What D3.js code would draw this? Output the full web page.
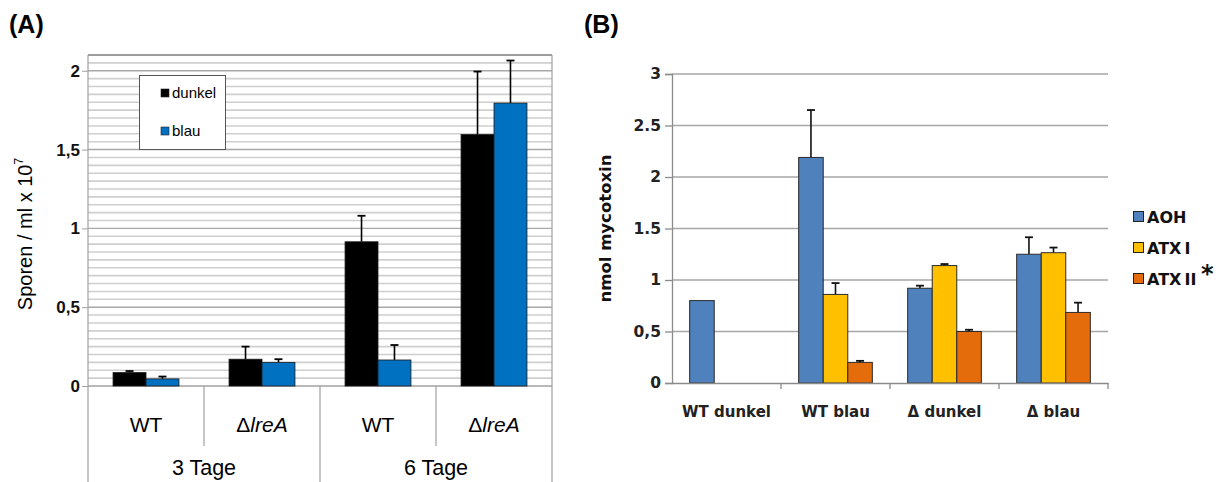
<!DOCTYPE html>
<html>
<head>
<meta charset="utf-8">
<script src="https://d3js.org/d3.v7.min.js"></script>
<style>
  html, body { margin: 0; padding: 0; background: #fff; }
  svg { display: block; font-family: "Liberation Sans", Arial, sans-serif; }
  .fb { font-family: "DejaVu Sans", Verdana, sans-serif; font-weight: bold; }
</style>
</head>
<body>
<svg id="chart" width="1223" height="482"></svg>
<script>
// ---- Panel A: spore counts ----
const daysA = ["3 Tage", "6 Tage"];
const strainsA = ["WT", "ΔlreA", "WT", "ΔlreA"];
const seriesA = ["dunkel", "blau"];
const dunkelMean = [0.085, 0.17, 0.915, 1.595];
const dunkelSD   = [0.01, 0.08, 0.165, 0.40];
const blauMean   = [0.045, 0.15, 0.165, 1.795];
const blauSD     = [0.015, 0.02, 0.095, 0.27];
const ticksA = [0, 0.5, 1, 1.5, 2];
const tickLabelsA = ["0", "0,5", "1", "1,5", "2"];

// ---- Panel B: mycotoxins ----
const groupsB = ["WT dunkel", "WT blau", "Δ dunkel", "Δ blau"];
const seriesB = ["AOH", "ATX I", "ATX II"];
const aohMean  = [0.80, 2.19, 0.92, 1.25];
const aohSD    = [0, 0.46, 0.025, 0.165];
const atx1Mean = [0, 0.86, 1.14, 1.265];
const atx1SD   = [0, 0.11, 0.015, 0.05];
const atx2Mean = [0, 0.20, 0.50, 0.685];
const atx2SD   = [0, 0.015, 0.017, 0.095];
const ticksB = [0, 0.5, 1, 1.5, 2, 2.5, 3];
const tickLabelsB = ["0", "0,5", "1", "1.5", "2", "2.5", "3"];

const svg = d3.select("#chart");

// ================= Panel A =================
const A = { left: 88, right: 552, top: 55, bottom: 386 };
const colA = { dunkel: "#000000", blau: "#0070C0" };
const yA = d3.scaleLinear().domain([0, 2.1]).range([A.bottom, A.top]);
const xA = d3.scaleBand().domain(d3.range(strainsA.length)).range([A.left, A.right]);
const xAin = d3.scaleBand().domain(seriesA).range([0, xA.bandwidth()]).paddingOuter(0.76);

svg.append("text").attr("x", 9).attr("y", 33)
  .attr("font-size", 25).attr("font-weight", "bold").text("(A)");

const gA = svg.append("g");
// minor grid every 0.05
const minor = d3.range(0, 2.1001, 0.05).filter(v => Math.abs(v * 2 - Math.round(v * 2)) > 1e-6);
gA.selectAll("line.minor").data(minor).join("line")
  .attr("x1", A.left).attr("x2", A.right)
  .attr("y1", d => yA(d)).attr("y2", d => yA(d))
  .attr("stroke", "#cfcfcf").attr("stroke-width", 1.6);
gA.selectAll("line.major").data(ticksA.slice(1)).join("line")
  .attr("x1", A.left).attr("x2", A.right)
  .attr("y1", d => yA(d)).attr("y2", d => yA(d))
  .attr("stroke", "#a8a8a8").attr("stroke-width", 1.4);
// frame
gA.append("line").attr("x1", A.left).attr("x2", A.right).attr("y1", A.top).attr("y2", A.top)
  .attr("stroke", "#8a8a8a").attr("stroke-width", 1.5);
gA.append("line").attr("x1", A.right).attr("x2", A.right).attr("y1", A.top).attr("y2", A.bottom)
  .attr("stroke", "#a0a0a0").attr("stroke-width", 1.2);
gA.append("line").attr("x1", A.left).attr("x2", A.left).attr("y1", A.top).attr("y2", 482)
  .attr("stroke", "#a0a0a0").attr("stroke-width", 1.2);
gA.append("line").attr("x1", A.left).attr("x2", A.right).attr("y1", A.bottom).attr("y2", A.bottom)
  .attr("stroke", "#a0a0a0").attr("stroke-width", 1.4);

// y axis
const axA = d3.axisLeft(yA).tickValues(ticksA).tickSize(6)
  .tickFormat((d, i) => tickLabelsA[i]);
const gAy = svg.append("g").attr("transform", `translate(${A.left},0)`).call(axA);
gAy.select(".domain").remove();
gAy.selectAll(".tick line").attr("stroke", "#a0a0a0");
gAy.selectAll(".tick text").attr("font-size", 17).attr("font-weight", "bold").attr("fill", "#111")
  .attr("x", -8).attr("font-family", "Liberation Sans, Arial, sans-serif");

// y title
const tA = svg.append("text")
  .attr("transform", `translate(32,234) rotate(-90)`)
  .attr("text-anchor", "middle").attr("font-size", 20);
tA.append("tspan").text("Sporen / ml x 10");
tA.append("tspan").attr("dy", -9).attr("font-size", 12).text("7");

// bars
const barsA = [
  { key: "dunkel", mean: dunkelMean, sd: dunkelSD },
  { key: "blau", mean: blauMean, sd: blauSD }
];
barsA.forEach(s => {
  const g = gA.append("g");
  const data = s.mean.map((m, i) => ({ i, m, sd: s.sd[i] }));
  const cx = d => xA(d.i) + xAin(s.key) + xAin.bandwidth() / 2;
  g.selectAll("line.err").data(data).join("line")
    .attr("x1", cx).attr("x2", cx)
    .attr("y1", d => yA(d.m)).attr("y2", d => yA(d.m + d.sd))
    .attr("stroke", "#000").attr("stroke-width", 1.6);
  g.selectAll("line.cap").data(data).join("line")
    .attr("x1", d => cx(d) - 4).attr("x2", d => cx(d) + 4)
    .attr("y1", d => yA(d.m + d.sd)).attr("y2", d => yA(d.m + d.sd))
    .attr("stroke", "#000").attr("stroke-width", 1.8);
  g.selectAll("rect").data(data).join("rect")
    .attr("x", d => xA(d.i) + xAin(s.key))
    .attr("width", xAin.bandwidth())
    .attr("y", d => yA(d.m)).attr("height", d => yA(0) - yA(d.m))
    .attr("fill", colA[s.key]).attr("stroke", "#1a1a1a").attr("stroke-width", 0.8);
});

// category table under the axis
const gAx = svg.append("g");
d3.range(1, strainsA.length).forEach(i => {
  const outer = i % 2 === 0;
  gAx.append("line").attr("x1", xA(i)).attr("x2", xA(i))
    .attr("y1", A.bottom).attr("y2", outer ? 482 : 446)
    .attr("stroke", "#a0a0a0").attr("stroke-width", 1.2);
});
gAx.append("line").attr("x1", A.right).attr("x2", A.right).attr("y1", A.bottom).attr("y2", 482)
  .attr("stroke", "#a0a0a0").attr("stroke-width", 1.2);
strainsA.forEach((s, i) => {
  const t = gAx.append("text").attr("x", xA(i) + xA.bandwidth() / 2).attr("y", 432)
    .attr("text-anchor", "middle").attr("font-size", 21);
  if (s.startsWith("Δ")) {
    t.append("tspan").text("Δ");
    t.append("tspan").attr("font-style", "italic").text(s.slice(1));
  } else t.text(s);
});
daysA.forEach((d, j) => {
  gAx.append("text").attr("x", (xA(2 * j) + xA(2 * j + 1) + xA.bandwidth()) / 2).attr("y", 475)
    .attr("text-anchor", "middle").attr("font-size", 21.5).text(d);
});

// legend A
const lgA = svg.append("g");
lgA.append("rect").attr("x", 139.5).attr("y", 75.5).attr("width", 86).attr("height", 74)
  .attr("fill", "#fff").attr("stroke", "#555").attr("stroke-width", 1);
seriesA.forEach((s, i) => {
  const y = 93 + i * 38;
  lgA.append("rect").attr("x", 161).attr("y", y - 4).attr("width", 8).attr("height", 8)
    .attr("fill", colA[s]).attr("stroke", "#222").attr("stroke-width", 0.6);
  lgA.append("text").attr("x", 172).attr("y", y + 5).attr("font-size", 15).text(s);
});

// ================= Panel B =================
const B = { left: 672, right: 1108, top: 74, bottom: 383 };
const colB = { "AOH": "#4F81BD", "ATX I": "#FFC000", "ATX II": "#E46C0A" };
const yB = d3.scaleLinear().domain([0, 3]).range([B.bottom, B.top]);
const xB = d3.scaleBand().domain(groupsB).range([B.left, B.right]);
const xBin = d3.scaleBand().domain(seriesB).range([0, xB.bandwidth()]).paddingOuter(0.72);

svg.append("text").attr("x", 584).attr("y", 33)
  .attr("font-size", 25).attr("font-weight", "bold").text("(B)");

const gB = svg.append("g");
gB.selectAll("line.grid").data(ticksB.slice(1)).join("line")
  .attr("x1", B.left).attr("x2", B.right)
  .attr("y1", d => yB(d)).attr("y2", d => yB(d))
  .attr("stroke", "#a6a6a6").attr("stroke-width", 1.5);

const axB = d3.axisLeft(yB).tickValues(ticksB).tickSize(7).tickFormat((d, i) => tickLabelsB[i]);
const gBy = svg.append("g").attr("transform", `translate(${B.left},0)`).call(axB);
gBy.attr("font-family", null).attr("font-size", null);
gBy.select(".domain").attr("stroke", "#8a8a8a").attr("stroke-width", 1.3);
gBy.selectAll(".tick line").attr("stroke", "#8a8a8a").attr("stroke-width", 1.3);
gBy.selectAll(".tick text").attr("class", "fb").attr("font-size", 15.5).attr("fill", "#222")
  .attr("x", -11);

const axBx = d3.axisBottom(xB).tickSize(0).tickFormat("");
svg.append("g").attr("transform", `translate(0,${B.bottom})`).call(axBx)
  .select(".domain").attr("stroke", "#8a8a8a").attr("stroke-width", 1.3);
// boundary ticks between groups
gB.selectAll("line.bt").data(groupsB).join("line")
  .attr("x1", d => xB(d) + xB.bandwidth()).attr("x2", d => xB(d) + xB.bandwidth())
  .attr("y1", B.bottom).attr("y2", B.bottom + 6)
  .attr("stroke", "#8a8a8a").attr("stroke-width", 1.3);
groupsB.forEach(g => {
  gB.append("text").attr("class", "fb").attr("x", xB(g) + xB.bandwidth() / 2).attr("y", 417)
    .attr("text-anchor", "middle").attr("font-size", 15)
    .attr("fill", "#222").text(g);
});

svg.append("text").attr("class", "fb")
  .attr("transform", `translate(611,${(B.top + B.bottom) / 2}) rotate(-90)`)
  .attr("text-anchor", "middle").attr("font-size", 16.5)
  .attr("fill", "#111").text("nmol mycotoxin");

const barsB = [
  { key: "AOH", mean: aohMean, sd: aohSD },
  { key: "ATX I", mean: atx1Mean, sd: atx1SD },
  { key: "ATX II", mean: atx2Mean, sd: atx2SD }
];
barsB.forEach(s => {
  const g = gB.append("g");
  const data = s.mean.map((m, i) => ({ grp: groupsB[i], m, sd: s.sd[i] })).filter(d => d.m > 0);
  const cx = d => xB(d.grp) + xBin(s.key) + xBin.bandwidth() / 2;
  const withErr = data.filter(d => d.sd > 0);
  g.selectAll("line.err").data(withErr).join("line")
    .attr("x1", cx).attr("x2", cx)
    .attr("y1", d => yB(d.m)).attr("y2", d => yB(d.m + d.sd))
    .attr("stroke", "#111").attr("stroke-width", 1.6);
  g.selectAll("line.cap").data(withErr).join("line")
    .attr("x1", d => cx(d) - 4).attr("x2", d => cx(d) + 4)
    .attr("y1", d => yB(d.m + d.sd)).attr("y2", d => yB(d.m + d.sd))
    .attr("stroke", "#111").attr("stroke-width", 1.8);
  g.selectAll("rect").data(data).join("rect")
    .attr("x", d => xB(d.grp) + xBin(s.key))
    .attr("width", xBin.bandwidth())
    .attr("y", d => yB(d.m)).attr("height", d => yB(0) - yB(d.m))
    .attr("fill", colB[s.key]).attr("stroke", "#2a2a2a").attr("stroke-width", 1);
});

// legend B
const lgB = svg.append("g");
seriesB.forEach((s, i) => {
  const y = 217 + i * 31;
  lgB.append("rect").attr("x", 1133.5).attr("y", y - 5.5).attr("width", 10).attr("height", 10)
    .attr("fill", colB[s]).attr("stroke", "#222").attr("stroke-width", 1);
  lgB.append("text").attr("class", "fb").attr("x", 1147).attr("y", y + 6)
    .attr("font-size", 16).attr("fill", "#111").text(s.replace(" ", "\u2009"));
});
lgB.append("text").attr("class", "fb").attr("x", 1201).attr("y", 282).attr("font-size", 24)
  .attr("fill", "#111").text("*");
</script>
</body>
</html>
